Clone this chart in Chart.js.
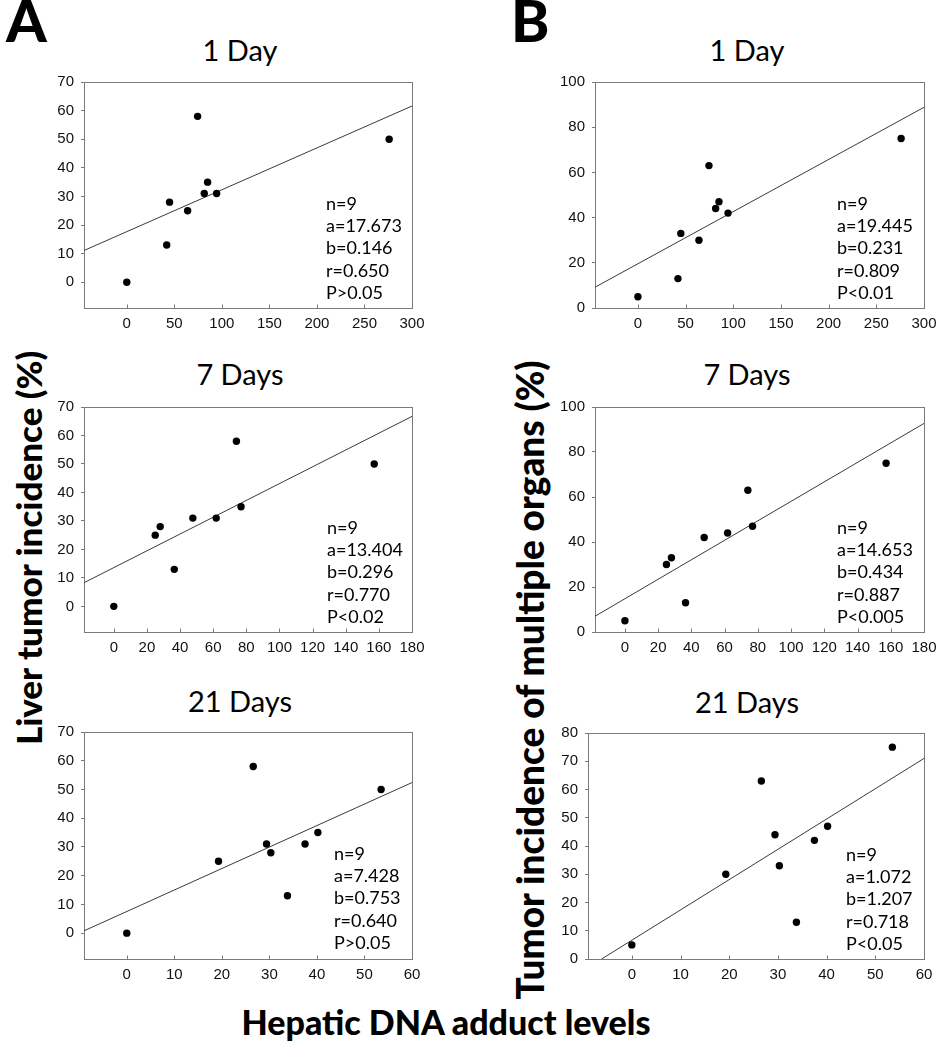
<!DOCTYPE html>
<html>
<head>
<meta charset="utf-8">
<script src="https://cdn.jsdelivr.net/npm/chart.js@4.4.1/dist/chart.umd.min.js"></script>
<style>
  body { margin: 0; background: #fff; }
  #page { position: relative; width: 936px; height: 1050px; overflow: hidden; background: #fff; }
  #page canvas { position: absolute; }
  .lbl { position: absolute; color: #000; white-space: nowrap; font-family: Lato, "Open Sans", sans-serif; }
  .panelTitle { font-size: 29px; line-height: 28px; width: 200px; text-align: center; }
  .letter { font-size: 58px; line-height: 57px; font-weight: 900; }
  .axisTitle { font-size: 34px; line-height: 34px; font-weight: 900; text-align: center; }
</style>
</head>
<body>
<div id="page">
  <div class="lbl letter" style="left:6px; top:-9px;">A</div>
  <div class="lbl letter" style="left:511px; top:-9px;">B</div>

  <div class="lbl panelTitle" style="left:140px; top:36px;">1 Day</div>
  <div class="lbl panelTitle" style="left:140px; top:360px;">7 Days</div>
  <div class="lbl panelTitle" style="left:140px; top:687px;">21 Days</div>
  <div class="lbl panelTitle" style="left:647px; top:36px;">1 Day</div>
  <div class="lbl panelTitle" style="left:647px; top:360px;">7 Days</div>
  <div class="lbl panelTitle" style="left:647px; top:688px;">21 Days</div>

  <div class="lbl axisTitle" style="left:-272px; top:531px; width:600px; font-size:35px; transform:rotate(-90deg);">Liver tumor incidence (%)</div>
  <div class="lbl axisTitle" style="left:130px; top:663px; width:800px; font-size:37px; transform:rotate(-90deg);">Tumor incidence of multiple organs (%)</div>
  <div class="lbl axisTitle" style="left:146px; top:1005px; width:600px;">Hepatic DNA adduct levels</div>

  <canvas id="a1"></canvas>
  <canvas id="a7"></canvas>
  <canvas id="a21"></canvas>
  <canvas id="b1"></canvas>
  <canvas id="b7"></canvas>
  <canvas id="b21"></canvas>
</div>

<script>
// values, same nine groups in every panel
const adduct1 = [0, 42, 45, 64, 74.5, 81.5, 85, 94.5, 276];
const adduct7 = [0, 36.5, 28, 25, 74, 61.8, 76.8, 47.7, 157.2];
const adduct21 = [0, 33.8, 30.3, 19.3, 26.6, 29.4, 40.2, 37.5, 53.5];
const liverIncidence = [0, 13, 28, 25, 58, 31, 35, 31, 50];
const multiIncidence = [5, 13, 33, 30, 63, 44, 47, 42, 75];

// regression line end points (x, y) as drawn
const fitA1x = [-45, 300], fitA1y = [11.1, 61.6];
const fitA7x = [-18, 180], fitA7y = [8.3, 66.7];
const fitA21x = [-9, 60], fitA21y = [0.8, 52.4];
const fitB1x = [-45, 300], fitB1y = [9.2, 88.8];
const fitB7x = [-18, 180], fitB7y = [7.0, 92.7];
const fitB21x = [-6.2, 60], fitB21y = [0, 71];

// tick labels
const xTicks1 = [0, 50, 100, 150, 200, 250, 300];
const xTicks7 = [0, 20, 40, 60, 80, 100, 120, 140, 160, 180];
const xTicks21 = [0, 10, 20, 30, 40, 50, 60];
const yTicksLiver = [0, 10, 20, 30, 40, 50, 60, 70];
const yTicksMulti100 = [0, 20, 40, 60, 80, 100];
const yTicksMulti80 = [0, 10, 20, 30, 40, 50, 60, 70, 80];

// statistics text
const notesA1 = ["n=9", "a=17.673", "b=0.146", "r=0.650", "P>0.05"];
const notesA7 = ["n=9", "a=13.404", "b=0.296", "r=0.770", "P<0.02"];
const notesA21 = ["n=9", "a=7.428", "b=0.753", "r=0.640", "P>0.05"];
const notesB1 = ["n=9", "a=19.445", "b=0.231", "r=0.809", "P<0.01"];
const notesB7 = ["n=9", "a=14.653", "b=0.434", "r=0.887", "P<0.005"];
const notesB21 = ["n=9", "a=1.072", "b=1.207", "r=0.718", "P<0.05"];

const pairs = (xs, ys) => xs.map((x, i) => ({ x: x, y: ys[i] }));

// box round the plot area, inner x ticks, and the n/a/b/r/P block
const panelPlugin = {
  id: "panelBox",
  beforeDatasetsDraw(chart) {
    const a = chart.chartArea;
    const ctx = chart.ctx;
    const xs = chart.scales.x;
    ctx.save();
    ctx.strokeStyle = "#7a7a7a";
    ctx.lineWidth = 1;
    const b = Math.round(a.bottom) + 0.5;
    ctx.strokeRect(Math.round(a.left) + 0.5, Math.round(a.top) + 0.5,
      Math.round(a.right - a.left), Math.round(a.bottom - a.top));
    ctx.beginPath();
    xs.ticks.forEach((t) => {
      const px = Math.round(xs.getPixelForValue(t.value)) + 0.5;
      ctx.moveTo(px, b);
      ctx.lineTo(px, b - 4);
    });
    ctx.stroke();
    ctx.restore();
  },
  afterDraw(chart) {
    const o = chart.options.plugins.panelBox;
    const a = chart.chartArea;
    const ctx = chart.ctx;
    ctx.save();
    ctx.fillStyle = "#000";
    ctx.font = "18px Lato, 'Open Sans', sans-serif";
    ctx.textBaseline = "middle";
    o.notes.forEach((t, i) => {
      ctx.fillText(t, a.left + o.dx, a.top + o.dy + i * 22.3);
    });
    ctx.restore();
  },
};

function makePanel(id, rect, xs, ys, fx, fy, xMin, xMax, xTicks, yMin, yMax, yTicks, notes, dx, dy) {
  const canvas = document.getElementById(id);
  const padTop = 12, padRight = 22, yw = 50, xh = 30;
  canvas.style.left = (rect[0] - yw) + "px";
  canvas.style.top = (rect[1] - padTop) + "px";
  canvas.style.width = (rect[2] + yw + padRight) + "px";
  canvas.style.height = (rect[3] + padTop + xh) + "px";
  canvas.width = rect[2] + yw + padRight;
  canvas.height = rect[3] + padTop + xh;

  new Chart(canvas.getContext("2d"), {
    type: "scatter",
    data: {
      datasets: [
        {
          data: pairs(xs, ys),
          backgroundColor: "#000",
          borderWidth: 0,
          pointRadius: 3.7,
        },
        {
          type: "line",
          data: pairs(fx, fy),
          borderColor: "#3a3a3a",
          borderWidth: 1,
          pointRadius: 0,
          fill: false,
        },
      ],
    },
    options: {
      responsive: false,
      animation: false,
      layout: { padding: { top: padTop, right: padRight, left: 0, bottom: 0 } },
      plugins: {
        legend: { display: false },
        tooltip: { enabled: false },
        panelBox: { notes: notes, dx: dx, dy: dy },
      },
      scales: {
        x: {
          type: "linear",
          min: xMin,
          max: xMax,
          afterBuildTicks: (s) => { s.ticks = xTicks.map((v) => ({ value: v })); },
          afterFit: (s) => { s.height = xh; },
          border: { display: false },
          grid: { display: false, drawOnChartArea: false, drawTicks: false },
          ticks: { color: "#111", padding: 7, maxRotation: 0, font: { family: "'Liberation Sans', Arial", size: 15 } },
        },
        y: {
          type: "linear",
          min: yMin,
          max: yMax,
          afterBuildTicks: (s) => { s.ticks = yTicks.map((v) => ({ value: v })); },
          afterFit: (s) => { s.width = yw; },
          border: { display: false },
          grid: { drawOnChartArea: false, tickLength: 3, color: "#7a7a7a" },
          ticks: { color: "#111", padding: 7, font: { family: "'Liberation Sans', Arial", size: 15 } },
        },
      },
    },
    plugins: [panelPlugin],
  });
}

makePanel("a1", [84, 78, 328, 230], adduct1, liverIncidence, fitA1x, fitA1y, -45, 300, xTicks1, -9, 70, yTicksLiver, notesA1, 242, 122);
makePanel("a7", [84, 403, 328, 229], adduct7, liverIncidence, fitA7x, fitA7y, -18, 180, xTicks7, -9, 70, yTicksLiver, notesA7, 243, 121);
makePanel("a21", [84, 728, 328, 231], adduct21, liverIncidence, fitA21x, fitA21y, -9, 60, xTicks21, -9, 70, yTicksLiver, notesA21, 250, 122);
makePanel("b1", [595, 78, 329, 230], adduct1, multiIncidence, fitB1x, fitB1y, -45, 300, xTicks1, 0, 100, yTicksMulti100, notesB1, 242, 122);
makePanel("b7", [595, 403, 329, 229], adduct7, multiIncidence, fitB7x, fitB7y, -18, 180, xTicks7, 0, 100, yTicksMulti100, notesB7, 242, 121);
makePanel("b21", [588, 729, 336, 230], adduct21, multiIncidence, fitB21x, fitB21y, -9, 60, xTicks21, 0, 80, yTicksMulti80, notesB21, 258, 122);
</script>
</body>
</html>
